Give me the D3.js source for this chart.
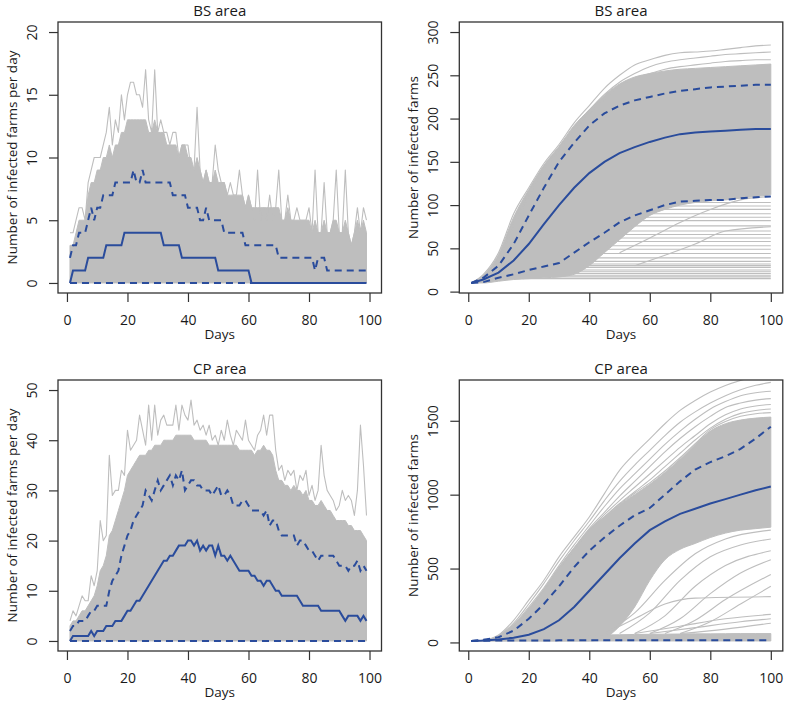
<!DOCTYPE html>
<html>
<head>
<meta charset="utf-8">
<script src="https://cdn.jsdelivr.net/npm/d3@7"></script>
<style>
  body { margin: 0; background: #fff; }
  text { font-family: "Open Sans", sans-serif; fill: #1a1a1a; }
</style>
</head>
<body>
<svg id="chart" width="787" height="706"></svg>
<script>
// ---------------- data ----------------
const days = d3.range(1, 100);                      // daily series, day 1..99
const cumDays = d3.range(0, 101, 5).map(d => d || 1); // 1,5,10,...,100

const xTicks = [0, 20, 40, 60, 80, 100];
const bsDailyTicks = [0, 5, 10, 15, 20];
const bsCumTicks = [0, 50, 100, 150, 200, 250, 300];
const cpDailyTicks = [0, 10, 20, 30, 40, 50];
const cpCumTicks = [0, 500, 1000, 1500];

// BS area, infected farms per day
const bsDailyMax = [4,4,5,6,6,5,8,9,10,10, 10,11,12,14,11,13,12,15,13,15,
  16,16,15,15,14,17,13,12,17,12, 13,12,12,11,12,12,10,11,11,11,
  9,9,14,9,8,9,8,8,11,9, 8,8,7,8,7,7,9,7,6,7,
  6,5,9,5,6,5,7,5,6,9, 5,5,7,5,5,6,5,5,5,6,
  4,9,4,4,8,4,4,5,9,4, 4,9,4,3,4,6,4,6,5];
const bsDailyDense = [3,3,4,5,5,5,7,8,8,9, 9,10,10,11,10,11,11,12,12,13,
  13,13,13,13,13,13,12,12,13,12, 12,12,11,11,11,11,10,11,11,10,
  10,9,10,9,8,9,8,8,9,8, 8,8,7,7,7,7,7,7,6,7,
  6,6,6,6,6,6,6,6,6,6, 5,5,6,5,5,5,5,5,5,5,
  4,5,4,4,5,4,4,5,5,4, 4,5,4,3,4,5,4,5,4];
const bsDailyMedianDays = [1,2,6,7,12,13,18,19,31,32,37,38,49,50,60,61,99];
const bsDailyMedian     = [0,1,1,2,2,3,3,4,4,3,3,2,2,1,1,0,0];
const bsDailyHigh = [2,3,3,4,4,4,5,6,5,6, 6,7,7,7,7,8,8,8,8,8,
  8,9,8,8,9,8,8,8,8,8, 8,8,8,8,7,7,7,7,7,6,
  6,6,6,5,5,6,5,5,5,5, 5,4,4,4,4,4,4,4,3,3,
  3,3,3,3,3,3,3,3,3,2, 2,2,2,2,2,2,2,2,2,2,
  2,1,2,2,2,1,1,1,1,1, 1,1,1,1,1,1,1,1,1];
const dailyLowDays = [1, 99];
const dailyLow = [0, 0];

// CP area, infected farms per day
const cpDailyMax = [4,6,5,7,9,8,8,13,11,14, 24,20,21,37,29,30,30,34,33,42,
  38,39,40,45,42,39,47,40,47,41, 44,45,43,43,43,47,42,47,45,44,
  48,43,44,42,43,41,43,40,41,39, 42,40,44,41,39,42,41,40,44,40,
  39,38,41,42,45,41,45,45,38,34, 35,32,34,33,34,30,33,32,34,29,
  31,28,30,39,33,30,29,28,26,27, 30,28,29,28,25,30,43,35,25];
const cpDailyDense = [3,4,4,5,6,6,7,8,9,11, 14,15,17,21,22,24,26,28,30,33,
  34,35,36,37,37,37,38,38,39,39, 39,40,40,40,40,41,41,41,41,41,
  41,40,40,40,40,40,39,39,39,39, 39,39,39,39,39,39,38,38,38,38,
  38,37,38,38,39,38,38,37,34,32, 32,31,31,30,31,30,30,29,30,28,
  28,27,27,28,27,26,26,25,24,24, 24,24,23,23,22,22,22,21,20];
const cpDailyMedian = [0,1,1,1,1,1,1,2,1,2, 2,2,3,3,3,4,4,4,5,6,
  6,7,8,8,9,10,11,12,13,14, 15,16,16,17,17,18,19,19,19,20,
  20,19,20,18,19,18,19,19,17,19, 17,17,16,17,16,15,14,14,14,14,
  13,13,12,12,11,12,12,11,10,10, 9,9,9,9,9,9,8,7,7,7,
  7,7,7,6,6,6,6,6,6,6, 5,4,5,5,5,5,4,5,4];
const cpDailyHigh = [2,3,3,4,4,4,5,6,6,7, 7,7,7,10,12,13,14,17,19,21,
  22,24,25,26,27,30,29,28,30,32, 30,31,32,33,31,33,32,34,30,31,
  32,32,31,31,30,30,30,29,30,31, 29,29,30,29,27,27,27,28,28,27,
  26,26,26,26,25,26,23,24,24,22, 21,21,21,21,21,19,20,20,19,18,
  18,17,16,17,17,17,17,17,16,15, 15,15,14,15,15,16,14,15,14];

// BS area, cumulative infected farms (values at cumDays)
const bsCumMedian = [10,14,22,36,55,78,100,120,137,150,160,167,173,178,182,184,185,186,187,188,188];
const bsCumHigh   = [10,16,30,55,88,120,150,172,192,206,215,221,225,229,232,234,236,237,238,239,239];
const bsCumLow    = [10,11,16,20,25,29,33,45,57,68,80,88,94,100,104,105,106,106,108,109,110];
const bsBandTop   = [10,19,43,86,118,146,168,192,210,227,240,248,252,255,257,258,259,260,261,262,263];
const bsBandBottom= [10,10,12,14,15,16,17,20,30,45,60,75,88,95,100,103,105,106,108,110,112];
const bsOuterRuns = [
  [10,20,45,90,120,148,170,195,215,235,250,262,268,273,276,277,278,280,282,284,285],
  [10,18,40,80,115,145,165,190,210,228,242,252,260,265,268,270,272,274,275,276,277],
  [10,18,38,75,110,140,163,186,206,222,236,246,252,257,260,262,264,266,267,268,268]
];
const bsPlateau      = [15,17,19,21,23,25,28,30,32,35,39,44,49,53,58,62,66,70,76,82,86,90,95,99,103];
const bsPlateauStart = [18,28,32,34,35,36,37,38,38,39,40,42,44,46,48,50,51,52,54,56,57,58,62,64,70];
const bsLateRises = [
  [[50, 45], [60, 62], [70, 80], [80, 95], [90, 106], [100, 110]],
  [[55, 30], [65, 42], [75, 55], [85, 70], [100, 75]]
];

// CP area, cumulative infected farms (values at cumDays)
const cpCumMedian = [10,13,20,32,52,90,150,240,350,460,570,670,760,820,870,905,940,970,1000,1030,1055];
const cpCumHigh   = [10,18,35,80,160,260,380,510,620,710,790,860,910,1000,1090,1170,1220,1260,1310,1380,1460];
const cpCumLowDays = [1, 10, 30, 100];
const cpCumLow     = [10, 13, 14, 15];
const cpBandTop    = [10,14,40,100,220,360,510,640,760,845,930,1000,1070,1150,1240,1340,1430,1480,1505,1518,1525];
const cpBandBottom = [10,10,10,10,10,10,10,10,10,30,110,240,420,560,630,670,710,740,760,770,780];
const cpStripTop   = [10,12,15,20,25,30,35,40,45,50,52,54,55,56,57,58,58,59,60,60,60];
const cpOuterRuns = [
  [10,15,50,150,286,421,579,714,849,1007,1164,1277,1378,1480,1570,1637,1694,1739,1773,1800,1820],
  [10,14,45,130,260,400,550,690,820,960,1090,1200,1300,1400,1490,1560,1620,1670,1710,1740,1760],
  [10,14,42,120,240,370,520,660,790,920,1040,1140,1240,1340,1430,1510,1580,1630,1670,1690,1700],
  [10,14,40,115,230,360,500,640,770,880,990,1090,1190,1290,1380,1460,1530,1590,1620,1640,1650],
  [10,14,40,110,225,355,500,635,760,865,960,1050,1140,1230,1320,1400,1480,1540,1580,1600,1610],
  [10,14,40,105,222,350,500,630,760,850,940,1020,1100,1190,1280,1370,1450,1510,1550,1570,1580],
  [10,14,40,100,220,350,500,630,760,850,935,1010,1080,1160,1250,1345,1440,1495,1530,1548,1555]
];
const cpLateRuns = [
  [[45,60],[55,200],[65,420],[75,600],[85,700],[100,760]],
  [[50,60],[60,200],[70,420],[80,580],[90,660],[100,700]],
  [[55,60],[65,180],[75,380],[85,520],[100,620]],
  [[60,60],[70,160],[80,330],[90,470],[100,560]],
  [[65,60],[75,150],[85,290],[100,460]],
  [[70,60],[80,140],[90,260],[100,380]],
  [[45,60],[55,160],[65,260],[75,300],[100,310]],
  [[55,60],[70,110],[85,160],[100,190]],
  [[60,60],[75,100],[90,140],[100,160]],
  [[70,60],[85,90],[100,130]]
];

// ---------------- drawing ----------------
const GRAY = "#bebebe";
const BLUE = "#2a4c9c";
const W = 323.5, H = 271;
const svg = d3.select("#chart");

// R style 4% axis extension
const pad = ([a, b]) => [a - 0.04 * (b - a), b + 0.04 * (b - a)];
const zip = (xs, ys) => xs.map((d, i) => [d, ys[i]]);

function drawPanel(p, idx) {
  const x = d3.scaleLinear().domain(pad([1, 100])).range([p.left, p.left + W]);
  const y = d3.scaleLinear().domain(pad(p.ylim)).range([p.top + H, p.top]);
  const line = d3.line().x(d => x(d[0])).y(d => y(d[1]));

  svg.append("clipPath").attr("id", "clip" + idx)
    .append("rect").attr("x", p.left).attr("y", p.top).attr("width", W).attr("height", H);

  const g = svg.append("g").attr("clip-path", `url(#clip${idx})`);
  p.gray(g.append("g"), x, y, line);

  // blue quantile lines
  p.blue.forEach(s => {
    g.append("path")
      .attr("d", line(s.pts))
      .attr("fill", "none")
      .attr("stroke", BLUE)
      .attr("stroke-width", 2)
      .attr("stroke-dasharray", s.dash ? "7,5" : null);
  });

  // box
  svg.append("rect")
    .attr("x", p.left).attr("y", p.top).attr("width", W).attr("height", H)
    .attr("fill", "none").attr("stroke", "#333").attr("stroke-width", 1.3);

  // x axis
  const xa = svg.append("g")
    .attr("transform", `translate(0,${p.top + H})`)
    .call(d3.axisBottom(x).tickValues(xTicks).tickSize(9).tickPadding(13));
  xa.select(".domain").remove();
  xa.selectAll("line").attr("stroke", "#333").attr("stroke-width", 1.2);
  xa.selectAll("text").attr("font-size", 14).attr("font-family", null);

  // y axis, labels rotated like R's default las = 0
  const ya = svg.append("g")
    .attr("transform", `translate(${p.left},0)`)
    .call(d3.axisLeft(y).tickValues(p.yTicks).tickSize(9).tickFormat(d3.format("d")));
  ya.select(".domain").remove();
  ya.selectAll("line").attr("stroke", "#333").attr("stroke-width", 1.2);
  ya.selectAll("text")
    .attr("x", null).attr("dy", null)
    .attr("text-anchor", "middle")
    .attr("font-size", 14).attr("font-family", null)
    .attr("transform", "translate(-21,0) rotate(-90)");

  svg.append("text")
    .attr("x", p.left + W / 2).attr("y", p.top - 6)
    .attr("text-anchor", "middle").attr("font-size", 15)
    .text(p.title);
  svg.append("text")
    .attr("x", p.left + W / 2).attr("y", p.top + H + 46)
    .attr("text-anchor", "middle").attr("font-size", 13.5)
    .text("Days");
  svg.append("text")
    .attr("transform", `translate(${p.left - 41},${p.top + H / 2}) rotate(-90)`)
    .attr("text-anchor", "middle").attr("font-size", 13.5)
    .text(p.ylab);
}

// dense body of the daily runs as a filled area, the outermost runs as a thin jagged line
function dailyGray(dense, maxVals) {
  return (g, x, y, line) => {
    const area = d3.area().x(d => x(d[0])).y0(y(0)).y1(d => y(d[1]));
    g.append("path").attr("d", area(zip(days, dense)))
      .attr("fill", GRAY).attr("stroke", GRAY).attr("stroke-width", 1)
      .attr("stroke-linejoin", "round");
    g.append("path").attr("d", line(zip(days, maxVals)))
      .attr("fill", "none").attr("stroke", GRAY).attr("stroke-width", 1.1)
      .attr("stroke-linejoin", "round");
  };
}

function band(g, x, y, lo, hi) {
  const area = d3.area().x(d => x(d[0])).y0(d => y(d[1])).y1(d => y(d[2])).curve(d3.curveMonotoneX);
  g.append("path")
    .attr("d", area(cumDays.map((d, i) => [d, lo[i], hi[i]])))
    .attr("fill", GRAY).attr("stroke", GRAY).attr("stroke-width", 1);
}

function grayLine(g, line, pts) {
  g.append("path").attr("d", line.curve(d3.curveMonotoneX)(pts))
    .attr("fill", "none").attr("stroke", GRAY).attr("stroke-width", 1.1);
  line.curve(d3.curveLinear);
}

const panels = [
  {
    title: "BS area", left: 58, top: 22, ylim: [0, 20], yTicks: bsDailyTicks,
    ylab: "Number of infected farms per day",
    gray: dailyGray(bsDailyDense, bsDailyMax),
    blue: [
      { pts: zip(bsDailyMedianDays, bsDailyMedian) },
      { pts: zip(days, bsDailyHigh), dash: true },
      { pts: zip(dailyLowDays, dailyLow), dash: true }
    ]
  },
  {
    title: "BS area", left: 459.3, top: 22, ylim: [10, 300], yTicks: bsCumTicks,
    ylab: "Number of infected farms",
    gray: (g, x, y, line) => {
      band(g, x, y, bsBandBottom, bsBandTop);
      bsOuterRuns.forEach(r => grayLine(g, line, zip(cumDays, r)));
      bsPlateau.forEach((v, i) => grayLine(g, line, [[bsPlateauStart[i], v], [100, v]]));
      bsLateRises.forEach(r => grayLine(g, line, r));
    },
    blue: [
      { pts: zip(cumDays, bsCumMedian) },
      { pts: zip(cumDays, bsCumHigh), dash: true },
      { pts: zip(cumDays, bsCumLow), dash: true }
    ]
  },
  {
    title: "CP area", left: 58, top: 380, ylim: [0, 50], yTicks: cpDailyTicks,
    ylab: "Number of infected farms per day",
    gray: dailyGray(cpDailyDense, cpDailyMax),
    blue: [
      { pts: zip(days, cpDailyMedian) },
      { pts: zip(days, cpDailyHigh), dash: true },
      { pts: zip(dailyLowDays, dailyLow), dash: true }
    ]
  },
  {
    title: "CP area", left: 459.3, top: 380, ylim: [10, 1708], yTicks: cpCumTicks,
    ylab: "Number of infected farms",
    gray: (g, x, y, line) => {
      band(g, x, y, cpBandBottom, cpBandTop);
      band(g, x, y, cumDays.map(() => 10), cpStripTop);
      cpOuterRuns.forEach(r => grayLine(g, line, zip(cumDays, r)));
      cpLateRuns.forEach(r => grayLine(g, line, r));
    },
    blue: [
      { pts: zip(cumDays, cpCumMedian) },
      { pts: zip(cumDays, cpCumHigh), dash: true },
      { pts: zip(cpCumLowDays, cpCumLow), dash: true }
    ]
  }
];

panels.forEach(drawPanel);
</script>
</body>
</html>
